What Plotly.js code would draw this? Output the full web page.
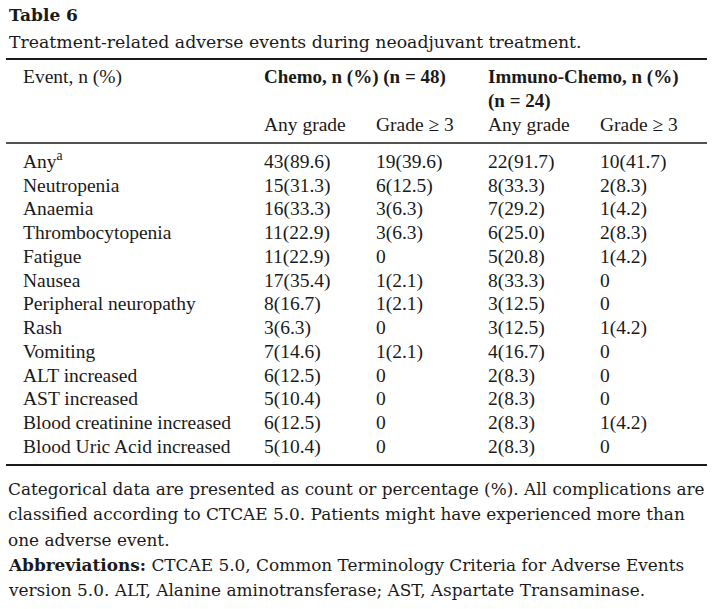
<!DOCTYPE html>
<html>
<head>
<meta charset="utf-8">
<script src="https://cdn.plot.ly/plotly-3.0.1.min.js"></script>
<style>html,body{margin:0;padding:0;background:#fff;}#chart{width:713px;height:609px;}</style>
</head>
<body>
<div id="chart"></div>
<script>
// ---- data ----
const tableLabel = "Table 6";
const caption = "Treatment-related adverse events during neoadjuvant treatment.";
const events = ["Any<sup>a</sup>", "Neutropenia", "Anaemia", "Thrombocytopenia", "Fatigue", "Nausea",
  "Peripheral neuropathy", "Rash", "Vomiting", "ALT increased", "AST increased",
  "Blood creatinine increased", "Blood Uric Acid increased"];
const chemoAny = ["43(89.6)", "15(31.3)", "16(33.3)", "11(22.9)", "11(22.9)", "17(35.4)", "8(16.7)",
  "3(6.3)", "7(14.6)", "6(12.5)", "5(10.4)", "6(12.5)", "5(10.4)"];
const chemoG3 = ["19(39.6)", "6(12.5)", "3(6.3)", "3(6.3)", "0", "1(2.1)", "1(2.1)",
  "0", "1(2.1)", "0", "0", "0", "0"];
const immunoAny = ["22(91.7)", "8(33.3)", "7(29.2)", "6(25.0)", "5(20.8)", "8(33.3)", "3(12.5)",
  "3(12.5)", "4(16.7)", "2(8.3)", "2(8.3)", "2(8.3)", "2(8.3)"];
const immunoG3 = ["10(41.7)", "2(8.3)", "1(4.2)", "2(8.3)", "1(4.2)", "0", "0",
  "1(4.2)", "0", "0", "0", "1(4.2)", "0"];
const headerCol0 = "Event, n (%)";
const groupHeaders = ["<b>Chemo, n (%) (n = 48)</b>", "<b>Immuno-Chemo, n (%)</b>", "<b>(n = 24)</b>"];
const subHeaders = ["Any grade", "Grade ≥ 3", "Any grade", "Grade ≥ 3"];
const footnotes = [
  "Categorical data are presented as count or percentage (%). All complications are",
  "classified according to CTCAE 5.0. Patients might have experienced more than",
  "one adverse event.",
  "<b>Abbreviations:</b> CTCAE 5.0, Common Terminology Criteria for Adverse Events",
  "version 5.0. ALT, Alanine aminotransferase; AST, Aspartate Transaminase."
];

// ---- layout constants ----
const FONT = "Liberation Serif, Times New Roman, serif";
const NOTEFONT = "DejaVu Serif, serif";
const INK = "#1a1a1a";
const colX = [23, 264, 376, 488, 600];
const row0Y = 163, rowStep = 23.75;
const bodySize = 19.5;

const columns = [events, chemoAny, chemoG3, immunoAny, immunoG3];
const traces = columns.map((col, c) => ({
  type: "scatter", mode: "text",
  x: col.map(() => colX[c]),
  y: col.map((_, i) => row0Y + i * rowStep),
  text: col,
  textposition: "middle right",
  textfont: {family: FONT, size: bodySize, color: INK},
  hoverinfo: "skip", showlegend: false, cliponaxis: false
}));

// header traces
traces.push({
  type: "scatter", mode: "text",
  x: [colX[0], colX[1], colX[2], colX[3], colX[4]],
  y: [78, 126, 126, 126, 126],
  text: [headerCol0].concat(subHeaders),
  textposition: "middle right",
  textfont: {family: FONT, size: bodySize, color: INK},
  hoverinfo: "skip", showlegend: false, cliponaxis: false
});
traces.push({
  type: "scatter", mode: "text",
  x: [colX[1], colX[3], colX[3]],
  y: [78, 78, 102],
  text: groupHeaders,
  textposition: "middle right",
  textfont: {family: FONT, size: 19, color: INK},
  hoverinfo: "skip", showlegend: false, cliponaxis: false
});

const annotations = [
  {text: "<b>" + tableLabel + "</b>", x: 7, y: 15, xanchor: "left", yanchor: "middle",
   font: {family: NOTEFONT, size: 17, color: INK}},
  {text: caption, x: 7, y: 42, xanchor: "left", yanchor: "middle",
   font: {family: NOTEFONT, size: 17.3, color: INK}}
].concat(footnotes.map((t, i) => ({
  text: t, x: 6, y: 489 + i * 25.3, xanchor: "left", yanchor: "middle",
  font: {family: NOTEFONT, size: 16.9, color: INK}
}))).map(a => Object.assign({xref: "x", yref: "y", showarrow: false, align: "left"}, a));

const rule = (y, w) => ({type: "line", xref: "x", yref: "y", x0: 6, x1: 707, y0: y, y1: y,
  line: {color: INK, width: w}});

const layout = {
  width: 713, height: 609,
  margin: {l: 0, r: 0, t: 0, b: 0},
  paper_bgcolor: "#ffffff", plot_bgcolor: "#ffffff",
  xaxis: {range: [0, 713], visible: false, fixedrange: true},
  yaxis: {range: [609, 0], visible: false, fixedrange: true},
  shapes: [rule(59, 1.8), rule(143, 1.5), rule(465, 1.8)],
  annotations: annotations
};

Plotly.newPlot("chart", traces, layout, {displayModeBar: false, staticPlot: true});
</script>
</body>
</html>
